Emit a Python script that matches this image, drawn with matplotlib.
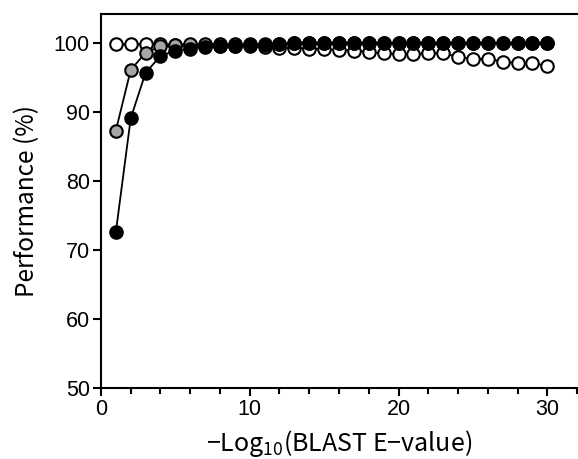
import matplotlib
matplotlib.use("Agg")
import matplotlib.pyplot as plt
import numpy as np

# -log10(E-value) thresholds
evalue = list(range(1, 31))

# three performance series (%)
perf_open = [99.8, 99.8, 99.8, 99.8, 99.7, 99.7, 99.7, 99.6, 99.6, 99.5,
             99.4, 99.3, 99.3, 99.2, 99.1, 99.0, 98.9, 98.7, 98.5, 98.4,
             98.4, 98.5, 98.5, 98.0, 97.7, 97.7, 97.3, 97.1, 97.1, 96.7]
perf_gray = [87.3, 96.1, 98.6, 99.5, 99.7, 99.8, 99.8, 99.8, 99.8, 99.8,
             99.8, 99.8, 100, 100, 100, 100, 100, 100, 100, 100,
             100, 100, 100, 100, 100, 100, 100, 100, 100, 100]
perf_black = [72.6, 89.1, 95.7, 98.1, 98.9, 99.2, 99.4, 99.5, 99.6, 99.7,
              99.7, 99.8, 100, 100, 100, 100, 100, 100, 100, 100,
              100, 100, 100, 100, 100, 100, 100, 100, 100, 100]

plt.rcParams['font.family'] = ['Liberation Sans', 'DejaVu Sans']
plt.rcParams['mathtext.fontset'] = 'custom'
plt.rcParams['mathtext.rm'] = 'Noto Sans CJK JP'

fig = plt.figure(figsize=(5.78, 4.59), dpi=100)
ax = fig.add_axes([0.1747, 0.1547, 0.8236, 0.8148])

style = dict(marker='o', markersize=9, markeredgewidth=1.5,
             markeredgecolor='black', color='black', linewidth=1.3)
ax.plot(evalue, perf_open, markerfacecolor='white', zorder=3, **style)
ax.plot(evalue, perf_gray, markerfacecolor='#a6a6a6', zorder=4, **style)
ax.plot(evalue, perf_black, markerfacecolor='black', zorder=5, **style)

ax.set_xlim(0, 32)
ax.set_ylim(50, 104.2)
ax.set_xticks(np.arange(0, 31, 10))
ax.set_xticks(np.arange(0, 33, 2), minor=True)
ax.set_yticks(np.arange(50, 101, 10))

ax.spines['right'].set_visible(False)
for s in ['left', 'bottom', 'top']:
    ax.spines[s].set_linewidth(1.5)

ax.tick_params(axis='both', which='major', direction='out', length=6,
               width=1.5, labelsize=15.5, pad=2)
ax.tick_params(axis='x', which='minor', direction='out', length=4, width=1.5)

lab_font = ['Noto Sans CJK JP', 'DejaVu Sans']
ax.set_ylabel('Performance (%)', fontsize=17.5, family=lab_font, labelpad=10)
ax.set_xlabel(r'$-$Log$_{10}$(BLAST E$-$value)', fontsize=18,
              family=lab_font, labelpad=6)

fig.savefig('out.png', dpi=100)
